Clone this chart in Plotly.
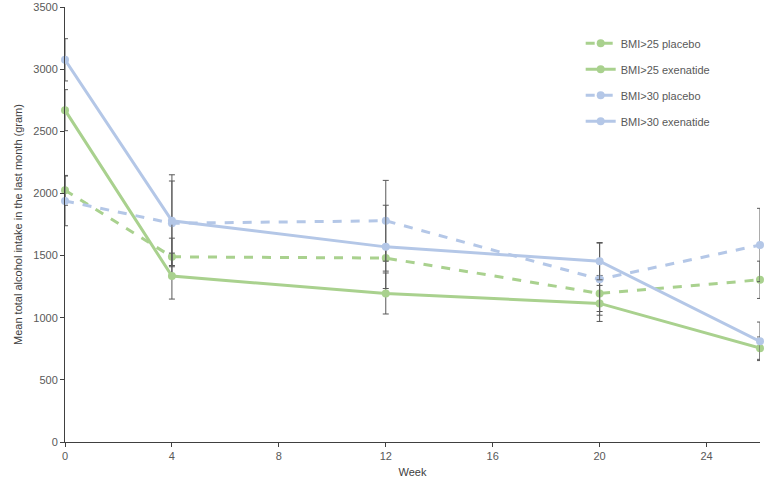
import plotly.graph_objects as go

weeks = [0, 4, 12, 20, 26]

# mean intake (gram) per group
bmi25_placebo = [2025, 1490, 1480, 1195, 1305]
bmi25_exenatide = [2670, 1335, 1195, 1115, 755]
bmi30_placebo = [1940, 1760, 1780, 1310, 1585]
bmi30_exenatide = [3075, 1780, 1570, 1455, 810]

# error bar half-widths
err25_placebo = [120, 150, 105, 145, 150]
err25_exenatide = [165, 185, 165, 145, 90]
err30_placebo = [200, 340, 325, 290, 295]
err30_exenatide = [170, 370, 335, 150, 155]

GREEN = '#a9d18e'
BLUE = '#b4c7e7'

series = [
    ('BMI>25 placebo', bmi25_placebo, err25_placebo, GREEN, 'dash'),
    ('BMI>25 exenatide', bmi25_exenatide, err25_exenatide, GREEN, 'solid'),
    ('BMI>30 placebo', bmi30_placebo, err30_placebo, BLUE, 'dash'),
    ('BMI>30 exenatide', bmi30_exenatide, err30_exenatide, BLUE, 'solid'),
]

fig = go.Figure()

for i, (name, vals, errs, color, dash) in enumerate(series):
    fig.add_trace(go.Scatter(
        x=weeks,
        y=vals,
        name=name,
        legendgroup=str(i),
        mode='lines+markers',
        line=dict(color=color, width=3, dash=dash),
        marker=dict(color=color, size=8),
        error_y=dict(type='data', array=errs, color='#595959', thickness=1, width=3),
        cliponaxis=False,
    ))

fig.update_layout(
    width=764,
    height=482,
    paper_bgcolor='white',
    plot_bgcolor='white',
    margin=dict(l=65, r=4, t=7, b=40),
    font=dict(family='Liberation Sans, Arial', size=11, color='#404040'),
    legend=dict(
        x=0.742, y=0.95, xanchor='left', yanchor='top',
        traceorder='grouped', tracegroupgap=7,
        font=dict(size=11, color='#595959'),
        bgcolor='rgba(0,0,0,0)',
    ),
    xaxis=dict(
        range=[0, 26], tickvals=[0, 4, 8, 12, 16, 20, 24],
        showgrid=False, zeroline=False, automargin=False,
        showline=True, linecolor='#404040', linewidth=1,
        ticks='outside', ticklen=4, tickcolor='#404040',
        tickfont=dict(size=11, color='#595959'),
        title=dict(text='Week', font=dict(size=11, color='#404040'), standoff=7),
    ),
    yaxis=dict(
        range=[0, 3500], tickvals=[0, 500, 1000, 1500, 2000, 2500, 3000, 3500],
        showgrid=False, zeroline=False, automargin=False,
        showline=True, linecolor='#404040', linewidth=1,
        ticks='outside', ticklen=4, tickcolor='#404040',
        tickfont=dict(size=11, color='#595959'),
        title=dict(text='Mean total alcohol intake in the last month (gram)',
                   font=dict(size=11, color='#404040'), standoff=8),
    ),
)

fig.write_html("out.html", config={'displayModeBar': False},
               post_script="document.body.style.margin='0px';")
